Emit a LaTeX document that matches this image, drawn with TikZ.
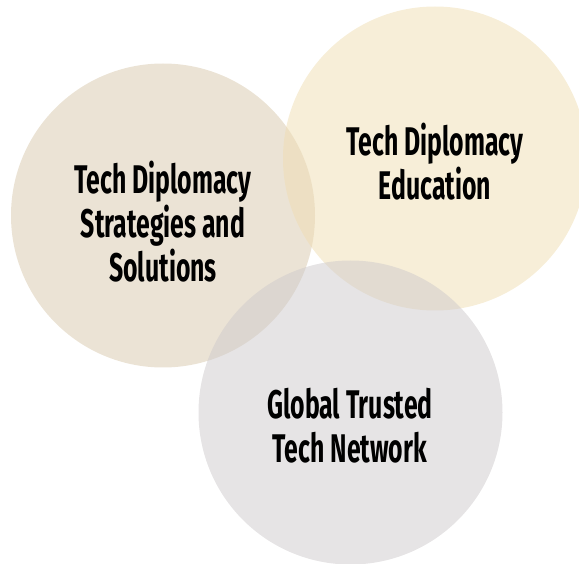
\documentclass[tikz,border=0pt]{standalone}
\usepackage{fontspec}
\newfontfamily\lblfont{Fira Sans}[FakeStretch=0.62]
\definecolor{leftc}{HTML}{D7C7AB}
\definecolor{rightc}{HTML}{EFDDB1}
\definecolor{bottomc}{HTML}{CDC9CB}
\tikzset{
  venn/.style={circle, minimum size=304pt, inner sep=0pt, fill opacity=0.5, draw=none},
  lbl/.style={align=center, font=\lblfont\bfseries\fontsize{40}{44}\selectfont, text=black, inner sep=0pt}
}
\begin{document}
\begin{tikzpicture}[x=1pt,y=-1pt]
\useasboundingbox (0,0) rectangle (579,564);
\node[venn, fill=leftc] (cl) at (163,215.5) {};
\node[venn, fill=rightc] (cr) at (435,158.5) {};
\node[venn, fill=bottomc] (cb) at (350.5,412.5) {};
\node[lbl] (tl) at (163,222) {Tech Diplomacy\\Strategies and\\Solutions};
\node[lbl] (tr) at (435,162) {Tech Diplomacy\\Education};
\node[lbl] (tb) at (350,426) {Global Trusted\\Tech Network};
\end{tikzpicture}
\end{document}
